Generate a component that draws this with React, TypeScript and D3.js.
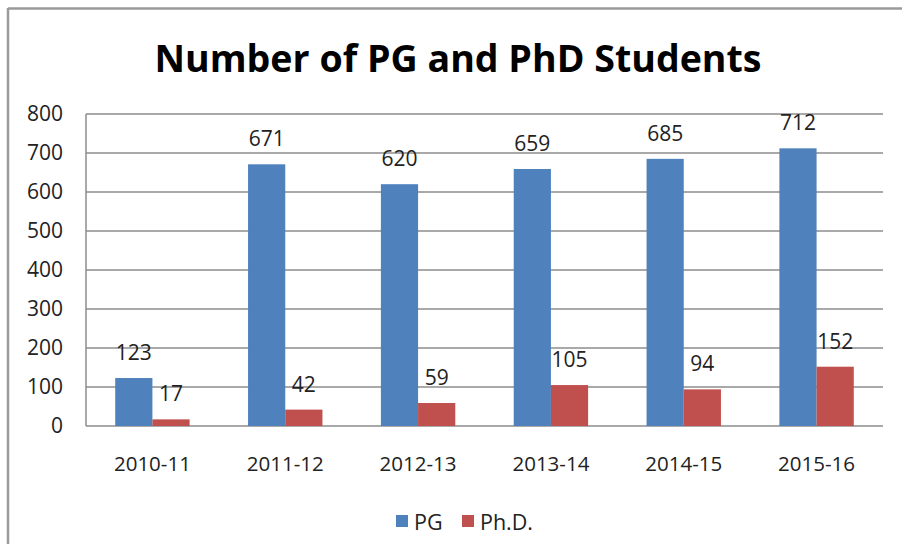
import * as d3 from 'd3'
import { FC } from 'react'

const years: string[] = ['2010-11', '2011-12', '2012-13', '2013-14', '2014-15', '2015-16']
const pgValues: number[] = [123, 671, 620, 659, 685, 712]
const phdValues: number[] = [17, 42, 59, 105, 94, 152]
const yTicks: number[] = [0, 100, 200, 300, 400, 500, 600, 700, 800]
const seriesNames: string[] = ['PG', 'Ph.D.']
const colors: string[] = ['#4F81BD', '#C0504D']

const font = '"Open Sans", "Noto Sans", sans-serif'

const App: FC = () => {
    const dimensions = { width: 902, height: 544 }
    const margin = { left: 86, right: 19, top: 114, bottom: 118 }
    const plotW = dimensions.width - margin.left - margin.right
    const plotH = dimensions.height - margin.top - margin.bottom

    const x = d3.scaleBand()
        .domain(years)
        .range([margin.left, margin.left + plotW])
        .paddingInner(0)
        .paddingOuter(0)

    const groupW = x.bandwidth() * 0.56
    const inner = d3.scaleBand()
        .domain(seriesNames)
        .range([0, groupW])

    const y = d3.scaleLinear()
        .domain([0, 800])
        .range([margin.top + plotH, margin.top])

    const series = [pgValues, phdValues]

    return (
        <svg
            width={dimensions.width}
            height={dimensions.height}
            style={{ position: 'absolute', left: 0, top: 0, background: '#fff' }}
        >
            {/* outer frame */}
            <line x1={8} x2={902} y1={8.5} y2={8.5} stroke="#9a9a9a" strokeWidth={2.5} />
            <line x1={8} x2={8} y1={8} y2={544} stroke="#9a9a9a" strokeWidth={2.5} />

            <text
                x={458}
                y={72}
                textAnchor="middle"
                fontFamily={font}
                fontWeight="bold"
                fontSize={38}
                textLength={607}
                lengthAdjust="spacingAndGlyphs"
                fill="#000"
            >
                Number of PG and PhD Students
            </text>

            {/* gridlines */}
            {yTicks.map(t => (
                <g key={t}>
                    <line
                        x1={margin.left}
                        x2={margin.left + plotW}
                        y1={y(t)}
                        y2={y(t)}
                        stroke="#8c8c8c"
                        strokeWidth={1.5}
                    />
                    <text
                        x={63}
                        y={y(t)}
                        dy="0.35em"
                        textAnchor="end"
                        fontFamily={font}
                        fontSize={21}
                        fill="#222"
                    >
                        {t}
                    </text>
                </g>
            ))}
            <line
                x1={margin.left}
                x2={margin.left}
                y1={margin.top}
                y2={margin.top + plotH}
                stroke="#8c8c8c"
                strokeWidth={1.5}
            />

            {/* bars */}
            {years.map((yr, i) => {
                const gx = x(yr)! + (x.bandwidth() - groupW) / 2
                return (
                    <g key={yr}>
                        {series.map((vals, s) => {
                            const bx = gx + inner(seriesNames[s])!
                            const by = y(vals[i])
                            return (
                                <g key={s}>
                                    <rect
                                        x={bx}
                                        y={by}
                                        width={inner.bandwidth()}
                                        height={y(0) - by}
                                        fill={colors[s]}
                                    />
                                    <text
                                        x={bx + inner.bandwidth() / 2}
                                        y={by - 18}
                                        textAnchor="middle"
                                        fontFamily={font}
                                        fontSize={21}
                                        fill="#222"
                                    >
                                        {vals[i]}
                                    </text>
                                </g>
                            )
                        })}
                        <text
                            x={x(yr)! + x.bandwidth() / 2}
                            y={471}
                            textAnchor="middle"
                            fontFamily={font}
                            fontSize={20.5}
                            fill="#222"
                        >
                            {yr}
                        </text>
                    </g>
                )
            })}

            {/* legend */}
            <rect x={396} y={515} width={12} height={12} fill={colors[0]} />
            <text x={414} y={530} fontFamily={font} fontSize={21.5} fill="#222">{seriesNames[0]}</text>
            <rect x={462} y={515} width={12} height={12} fill={colors[1]} />
            <text x={480} y={530} fontFamily={font} fontSize={21.5} fill="#222">{seriesNames[1]}</text>
        </svg>
    )
}

export default App
